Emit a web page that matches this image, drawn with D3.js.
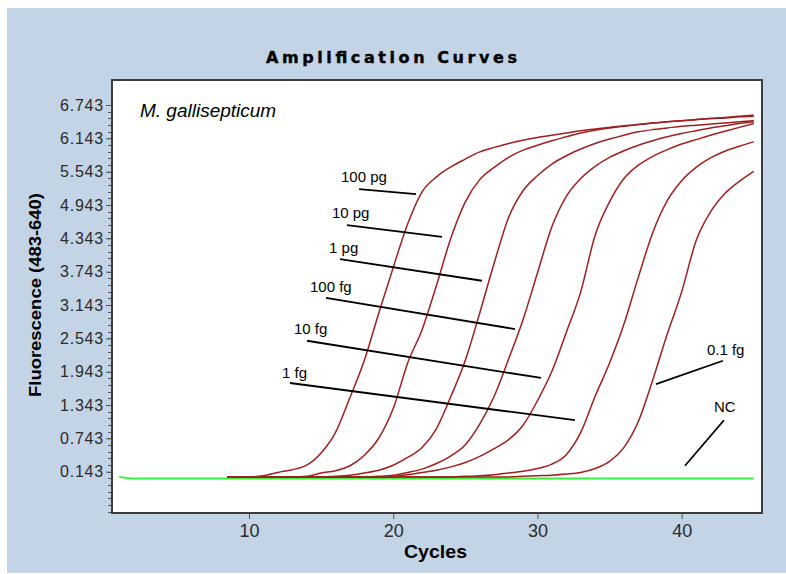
<!DOCTYPE html>
<html>
<head>
<meta charset="utf-8">
<script src="https://cdn.jsdelivr.net/npm/d3@7"></script>
<style>
	body { margin: 0; background: #fff; }
	svg { display: block; font-family: "Liberation Sans", Arial, sans-serif; }
</style>
</head>
<body>
<svg id="chart"></svg>
<script>
// cycle numbers of the sample curves
var cycles = [8.5, 9, 10, 11, 12, 13, 14, 15, 16, 17, 18, 19, 20, 21, 22, 23, 24, 25, 26, 27,
	28, 29, 30, 31, 32, 33, 34, 35, 36, 37, 38, 39, 40, 41, 42, 43, 44, 45]

var pg100 = [0.05, 0.05, 0.05, 0.07, 0.13, 0.18, 0.26, 0.48, 0.85, 1.48, 2.15, 3.0, 3.82, 4.6, 5.18, 5.45, 5.63, 5.77, 5.9, 5.98,
	6.05, 6.11, 6.16, 6.2, 6.24, 6.28, 6.31, 6.34, 6.37, 6.39, 6.42, 6.44, 6.46, 6.48, 6.5, 6.52, 6.54, 6.56]
var pg10 = [0.05, 0.05, 0.05, 0.05, 0.05, 0.05, 0.06, 0.12, 0.16, 0.25, 0.44, 0.75, 1.28, 2.1, 2.7, 3.5, 4.35, 5.0, 5.4, 5.62,
	5.8, 5.93, 6.02, 6.1, 6.17, 6.24, 6.29, 6.33, 6.36, 6.39, 6.42, 6.44, 6.46, 6.48, 6.5, 6.51, 6.53, 6.54]
var pg1 = [0.05, 0.05, 0.05, 0.05, 0.05, 0.05, 0.05, 0.05, 0.06, 0.08, 0.12, 0.17, 0.26, 0.4, 0.58, 0.92, 1.5, 2.15, 3.0, 3.9,
	4.72, 5.2, 5.47, 5.68, 5.83, 5.95, 6.05, 6.13, 6.2, 6.26, 6.3, 6.33, 6.36, 6.38, 6.4, 6.42, 6.44, 6.46]
var fg100 = [0.05, 0.05, 0.05, 0.05, 0.05, 0.05, 0.05, 0.05, 0.05, 0.05, 0.05, 0.06, 0.08, 0.13, 0.19, 0.29, 0.43, 0.63, 1.0, 1.5,
	2.17, 2.88, 3.72, 4.55, 5.1, 5.42, 5.64, 5.8, 5.92, 6.02, 6.1, 6.17, 6.23, 6.28, 6.33, 6.37, 6.41, 6.44]
var fg10 = [0.05, 0.05, 0.05, 0.05, 0.05, 0.05, 0.05, 0.05, 0.05, 0.05, 0.05, 0.05, 0.06, 0.09, 0.13, 0.17, 0.23, 0.31, 0.42, 0.56,
	0.72, 0.98, 1.42, 1.95, 2.65, 3.38, 4.4, 5.0, 5.42, 5.66, 5.82, 5.94, 6.04, 6.12, 6.2, 6.27, 6.34, 6.41]
var fg1 = [0.05, 0.05, 0.05, 0.05, 0.05, 0.05, 0.05, 0.05, 0.05, 0.05, 0.05, 0.05, 0.05, 0.05, 0.05, 0.05, 0.05, 0.06, 0.07, 0.09,
	0.12, 0.15, 0.2, 0.28, 0.45, 0.85, 1.5, 2.1, 2.8, 3.65, 4.45, 5.02, 5.38, 5.62, 5.79, 5.91, 6.0, 6.08]
var fg01 = [0.05, 0.05, 0.05, 0.05, 0.05, 0.05, 0.05, 0.05, 0.05, 0.05, 0.05, 0.05, 0.05, 0.05, 0.05, 0.05, 0.05, 0.05, 0.05, 0.05,
	0.05, 0.06, 0.07, 0.08, 0.1, 0.13, 0.2, 0.33, 0.58, 1.05, 1.8, 2.62, 3.38, 4.3, 4.82, 5.15, 5.37, 5.55]

// negative control
var ncCycles = [1, 2, 3, 4, 5, 6, 7, 8, 9, 10, 11, 12, 13, 14, 15, 16, 17, 18, 19, 20, 21, 22, 23,
	24, 25, 26, 27, 28, 29, 30, 31, 32, 33, 34, 35, 36, 37, 38, 39, 40, 41, 42, 43, 44, 45]
var ncValues = [0.05, 0.02, 0.02, 0.02, 0.02, 0.02, 0.02, 0.02, 0.02, 0.02, 0.02, 0.02, 0.02, 0.02, 0.02, 0.02, 0.02, 0.02, 0.02, 0.02, 0.02, 0.02, 0.02,
	0.02, 0.02, 0.02, 0.02, 0.02, 0.02, 0.02, 0.02, 0.02, 0.02, 0.02, 0.02, 0.02, 0.02, 0.02, 0.02, 0.02, 0.02, 0.02, 0.02, 0.02, 0.02]

var yTicks = [0.143, 0.743, 1.343, 1.943, 2.543, 3.143, 3.743, 4.343, 4.943, 5.543, 6.143, 6.743]
var xTicks = [10, 20, 30, 40]

var samples = [pg100, pg10, pg1, fg100, fg10, fg1, fg01]

// label text, label anchor and leader line, in cycles / fluorescence
var notes = [
	{ text: "100 pg", at: [16.38, 5.36], from: [17.63, 5.23], to: [21.58, 5.14] },
	{ text: "10 pg", at: [15.75, 4.71], from: [16.79, 4.58], to: [23.38, 4.37] },
	{ text: "1 pg", at: [15.55, 4.08], from: [16.31, 3.97], to: [26.15, 3.58] },
	{ text: "100 fg", at: [14.23, 3.38], from: [15.34, 3.27], to: [28.44, 2.71] },
	{ text: "10 fg", at: [13.12, 2.62], from: [14.02, 2.5], to: [30.25, 1.83] },
	{ text: "1 fg", at: [12.29, 1.83], from: [12.84, 1.74], to: [32.6, 1.07] },
	{ text: "0.1 fg", at: [41.75, 2.24], from: [42.86, 2.14], to: [38.22, 1.72] },
	{ text: "NC", at: [42.24, 1.22], from: [42.93, 1.07], to: [40.23, 0.25] }
]

var width = 786
var height = 574
var svg = d3.select("#chart")
	.attr("width", width)
	.attr("height", height)

svg.append("rect")
	.attr("x", 7)
	.attr("y", 8)
	.attr("width", width - 7)
	.attr("height", 565)
	.attr("fill", "#c2d4e5")

var x = d3.scaleLinear()
	.domain([0.5, 45.57])
	.range([112, 762])
var y = d3.scaleLinear()
	.domain([-0.6, 7.193])
	.range([513, 80])

svg.append("rect")
	.attr("x", 112)
	.attr("y", 80)
	.attr("width", 650)
	.attr("height", 433)
	.attr("fill", "#fff")

// minor ticks on the fluorescence axis
var minor = d3.range(0.143 - 0.72, 6.75, 0.12)
svg.append("g")
	.selectAll("line")
	.data(minor)
	.enter()
	.append("line")
	.attr("x1", 108)
	.attr("x2", 112)
	.attr("y1", function(d) { return Math.round(y(d)) + 0.5 })
	.attr("y2", function(d) { return Math.round(y(d)) + 0.5 })
	.attr("stroke", "#555")

var yAxis = svg.append("g")
	.attr("transform", "translate(112,0)")
	.call(d3.axisLeft(y)
		.tickValues(yTicks)
		.tickSize(6)
		.tickPadding(2)
		.tickFormat(d3.format(".3f")))
yAxis.select(".domain").remove()
yAxis.selectAll("line").attr("stroke", "#555")
yAxis.selectAll("text")
	.attr("font-family", "Liberation Sans, Arial, sans-serif")
	.attr("font-size", 16)
	.attr("letter-spacing", 0.8)
	.attr("fill", "#2b2b2b")

var xAxis = svg.append("g")
	.attr("transform", "translate(0,513)")
	.call(d3.axisBottom(x)
		.tickValues(xTicks)
		.tickSize(6)
		.tickPadding(5))
xAxis.select(".domain").remove()
xAxis.selectAll("line").attr("stroke", "#555")
xAxis.selectAll("text")
	.attr("font-family", "Liberation Sans, Arial, sans-serif")
	.attr("font-size", 18)
	.attr("fill", "#2b2b2b")

var line = d3.line()
	.x(function(d) { return x(d[0]) })
	.y(function(d) { return y(d[1]) })
	.curve(d3.curveMonotoneX)

svg.append("path")
	.datum(d3.zip(ncCycles, ncValues))
	.attr("d", line)
	.attr("fill", "none")
	.attr("stroke", "#3af03a")
	.attr("stroke-width", 2)

svg.append("g")
	.selectAll("path")
	.data(samples)
	.enter()
	.append("path")
	.attr("d", function(vals) { return line(d3.zip(cycles, vals)) })
	.attr("fill", "none")
	.attr("stroke", "#9c2020")
	.attr("stroke-width", 1.5)

var notesG = svg.append("g")
notesG.selectAll("line")
	.data(notes)
	.enter()
	.append("line")
	.attr("x1", function(n) { return x(n.from[0]) })
	.attr("y1", function(n) { return y(n.from[1]) })
	.attr("x2", function(n) { return x(n.to[0]) })
	.attr("y2", function(n) { return y(n.to[1]) })
	.attr("stroke", "#000")
	.attr("stroke-width", 1.8)
notesG.selectAll("text")
	.data(notes)
	.enter()
	.append("text")
	.attr("x", function(n) { return x(n.at[0]) })
	.attr("y", function(n) { return y(n.at[1]) })
	.attr("font-size", 15)
	.attr("fill", "#000")
	.text(function(n) { return n.text })

svg.append("text")
	.attr("x", x(2.44))
	.attr("y", y(6.527))
	.attr("font-size", 19)
	.attr("font-style", "italic")
	.text("M. gallisepticum")

// frame
svg.append("rect")
	.attr("x", 112)
	.attr("y", 80)
	.attr("width", 650)
	.attr("height", 433)
	.attr("fill", "none")
	.attr("stroke", "#3c3c3c")
	.attr("stroke-width", 2)

svg.append("text")
	.attr("x", 266)
	.attr("y", 63)
	.attr("font-family", "DejaVu Sans, sans-serif")
	.attr("font-size", 16)
	.attr("font-weight", "bold")
	.attr("stroke", "#000")
	.attr("stroke-width", 0.4)
	.attr("textLength", 251)
	.attr("lengthAdjust", "spacing")
	.text("Amplification Curves")

svg.append("text")
	.attr("x", 404)
	.attr("y", 558)
	.attr("font-size", 18)
	.attr("font-weight", "bold")
	.attr("textLength", 63)
	.attr("lengthAdjust", "spacingAndGlyphs")
	.text("Cycles")

svg.append("text")
	.attr("transform", "translate(41,397) rotate(-90)")
	.attr("font-size", 16)
	.attr("font-weight", "bold")
	.attr("textLength", 204)
	.attr("lengthAdjust", "spacingAndGlyphs")
	.text("Fluorescence (483-640)")
</script>
</body>
</html>
